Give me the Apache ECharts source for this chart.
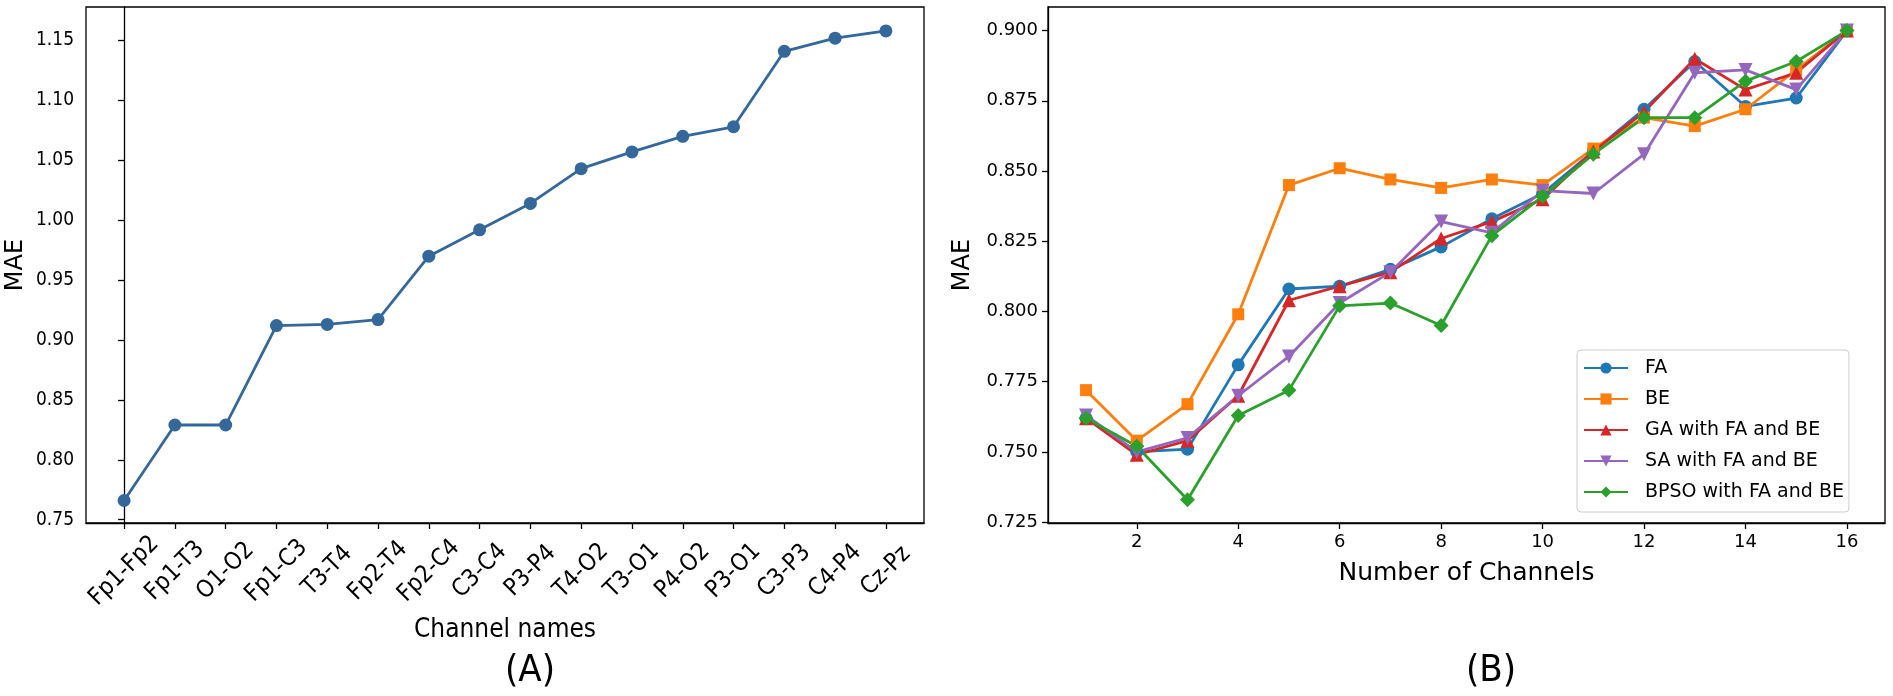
<!DOCTYPE html>
<html>
<head>
<meta charset="utf-8">
<script src="https://cdn.jsdelivr.net/npm/echarts@6/dist/echarts.min.js"></script>
<style>
  html, body { margin: 0; padding: 0; background: #fff; }
  #chart { width: 1893px; height: 696px; }
</style>
</head>
<body>
<div id="chart"></div>
<script>
/// data

// (A) MAE per channel pair
const channels = ['Fp1-Fp2', 'Fp1-T3', 'O1-O2', 'Fp1-C3', 'T3-T4', 'Fp2-T4', 'Fp2-C4', 'C3-C4',
  'P3-P4', 'T4-O2', 'T3-O1', 'P4-O2', 'P3-O1', 'C3-P3', 'C4-P4', 'Cz-Pz']
const channelMae = [0.766, 0.829, 0.829, 0.912, 0.913, 0.917, 0.970, 0.992,
  1.014, 1.043, 1.057, 1.070, 1.078, 1.141, 1.152, 1.158]
const leftTicks = [0.75, 0.80, 0.85, 0.90, 0.95, 1.00, 1.05, 1.10, 1.15]

// (B) MAE against number of channels
const numChannels = [1, 2, 3, 4, 5, 6, 7, 8, 9, 10, 11, 12, 13, 14, 15, 16]
const fa   = [0.762, 0.750, 0.751, 0.781, 0.808, 0.809, 0.815, 0.823, 0.833, 0.842, 0.857, 0.872, 0.889, 0.873, 0.876, 0.900]
const be   = [0.772, 0.754, 0.767, 0.799, 0.845, 0.851, 0.847, 0.844, 0.847, 0.845, 0.858, 0.869, 0.866, 0.872, 0.886, 0.900]
const ga   = [0.762, 0.749, 0.754, 0.770, 0.804, 0.809, 0.814, 0.826, 0.832, 0.840, 0.857, 0.871, 0.890, 0.879, 0.885, 0.900]
const sa   = [0.763, 0.750, 0.755, 0.770, 0.784, 0.803, 0.814, 0.832, 0.828, 0.843, 0.842, 0.856, 0.885, 0.886, 0.879, 0.900]
const bpso = [0.762, 0.752, 0.733, 0.763, 0.772, 0.802, 0.803, 0.795, 0.827, 0.841, 0.856, 0.869, 0.869, 0.882, 0.889, 0.900]
const rightXTicks = [2, 4, 6, 8, 10, 12, 14, 16]
const rightYTicks = [0.725, 0.750, 0.775, 0.800, 0.825, 0.850, 0.875, 0.900]


/// style

const condensed = "'DejaVu Sans Condensed', 'Liberation Sans Narrow', 'DejaVu Sans', sans-serif"
const regular = "'DejaVu Sans', sans-serif"
const lineWidth = 2.8

function ticks(values) {
  return { show: true, inside: false, length: 6, lineStyle: { color: '#000', width: 1.3 }, customValues: values }
}

function axis(extra) {
  return Object.assign({
    axisLine: { show: true, lineStyle: { color: '#000', width: 1.3 } },
    splitLine: { show: false }
  }, extra)
}

function pairs(xs, ys) {
  return xs.map((x, i) => [x, ys[i]])
}

function lineSeries(name, ys, color, symbol, size, rotate) {
  return {
    name,
    type: 'line',
    xAxisIndex: 1,
    yAxisIndex: 1,
    data: pairs(numChannels, ys),
    symbol,
    symbolSize: size,
    symbolRotate: rotate || 0,
    lineStyle: { color, width: lineWidth },
    itemStyle: { color, borderWidth: 0 },
    emphasis: { disabled: true }
  }
}


/// chart

const chart = echarts.init(document.getElementById('chart'))
const channelIdx = channels.map((_, i) => i)

chart.setOption({
  animation: false,
  backgroundColor: '#fff',
  grid: [
    { left: 86, right: 969, top: 7, bottom: 173, show: true, borderColor: '#000', borderWidth: 1.3 },
    { left: 1048, right: 8, top: 7, bottom: 173, show: true, borderColor: '#000', borderWidth: 1.3 }
  ],
  xAxis: [
    axis({
      type: 'value',
      gridIndex: 0,
      min: -0.75,
      max: 15.75,
      name: 'Channel names',
      nameLocation: 'middle',
      nameGap: 94,
      nameTextStyle: { color: '#000', fontFamily: condensed, fontSize: 26 },
      axisTick: ticks(channelIdx),
      axisLabel: {
        color: '#000', fontFamily: condensed, fontSize: 24,
        rotate: 45, align: 'center', verticalAlign: 'middle', margin: 48,
        customValues: channelIdx,
        formatter: v => channels[Math.round(v)]
      }
    }),
    axis({
      type: 'value',
      gridIndex: 1,
      min: 0.25,
      max: 16.75,
      name: 'Number of Channels',
      nameLocation: 'middle',
      nameGap: 38,
      nameTextStyle: { color: '#000', fontFamily: regular, fontSize: 25 },
      axisTick: ticks(rightXTicks),
      axisLabel: { color: '#000', fontFamily: regular, fontSize: 18, margin: 10,
        customValues: rightXTicks, formatter: v => String(v) }
    })
  ],
  yAxis: [
    axis({
      type: 'value',
      gridIndex: 0,
      min: 0.7472,
      max: 1.178,
      name: 'MAE',
      nameLocation: 'middle',
      nameGap: 58,
      nameTextStyle: { color: '#000', fontFamily: regular, fontSize: 24 },
      axisTick: ticks(leftTicks),
      axisLabel: { color: '#000', fontFamily: condensed, fontSize: 19, margin: 12,
        customValues: leftTicks, formatter: v => v.toFixed(2) }
    }),
    axis({
      type: 'value',
      gridIndex: 1,
      min: 0.7247,
      max: 0.9084,
      name: 'MAE',
      nameLocation: 'middle',
      nameGap: 73,
      nameTextStyle: { color: '#000', fontFamily: regular, fontSize: 24 },
      axisTick: ticks(rightYTicks),
      axisLabel: { color: '#000', fontFamily: regular, fontSize: 18, margin: 10,
        customValues: rightYTicks, formatter: v => v.toFixed(3) }
    })
  ],
  legend: {
    data: ['FA', 'BE', 'GA with FA and BE', 'SA with FA and BE', 'BPSO with FA and BE'],
    orient: 'vertical',
    left: 1577,
    top: 350,
    padding: [8, 5, 10, 6],
    itemWidth: 44,
    itemHeight: 14,
    itemGap: 11,
    backgroundColor: 'rgba(255,255,255,0.8)',
    borderColor: '#cccccc',
    borderWidth: 1,
    borderRadius: 4,
    selectedMode: false,
    textStyle: { color: '#000', fontFamily: regular, fontSize: 19, lineHeight: 20, padding: [0, 0, 0, 12] }
  },
  graphic: [
    { type: 'text', left: 505, top: 652, style: { text: '(A)', fill: '#000', font: '38px ' + condensed, textAlign: 'center' } },
    { type: 'text', left: 1466, top: 652, style: { text: '(B)', fill: '#000', font: '38px ' + condensed, textAlign: 'center' } }
  ],
  series: [
    {
      name: 'channels',
      type: 'line',
      xAxisIndex: 0,
      yAxisIndex: 0,
      data: pairs(channelIdx, channelMae),
      symbol: 'circle',
      symbolSize: 13,
      lineStyle: { color: '#34679a', width: lineWidth },
      itemStyle: { color: '#34679a', borderWidth: 0 },
      emphasis: { disabled: true }
    },
    lineSeries('FA', fa, '#1f77b4', 'circle', 13),
    lineSeries('BE', be, '#ff7f0e', 'rect', 12),
    lineSeries('GA with FA and BE', ga, '#d62728', 'triangle', 14),
    lineSeries('SA with FA and BE', sa, '#9467bd', 'triangle', 14, 180),
    lineSeries('BPSO with FA and BE', bpso, '#2ca02c', 'diamond', 15)
  ]
})
</script>
</body>
</html>
